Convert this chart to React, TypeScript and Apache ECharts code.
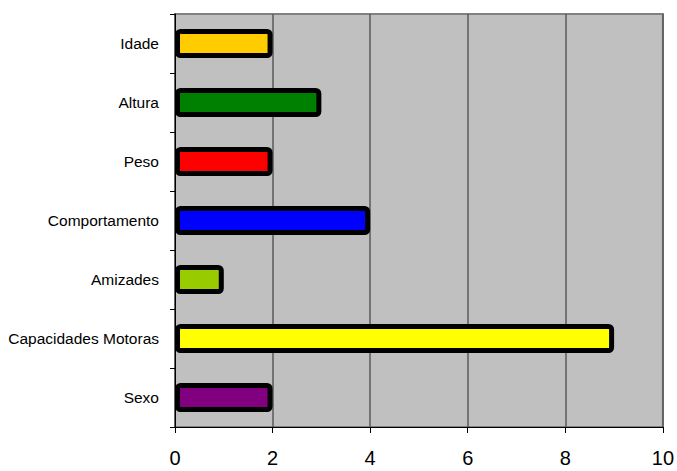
import React, { useEffect, useRef } from "react";
import * as echarts from "echarts";

const categories = ["Idade", "Altura", "Peso", "Comportamento", "Amizades", "Capacidades Motoras", "Sexo"];
const values = [2, 3, 2, 4, 1, 9, 2];
const colors = ["#FFCC00", "#008000", "#FF0000", "#0000FF", "#99CC00", "#FFFF00", "#800080"];
const xTicks = [0, 2, 4, 6, 8, 10];

const FONT = "'Liberation Sans Narrow', 'Arial Narrow', 'Liberation Sans', Arial, sans-serif";

export default function App() {
  const ref = useRef<HTMLDivElement>(null);
  useEffect(() => {
    if (!ref.current) return;
    const chart = echarts.init(ref.current, null, { renderer: "svg" });
    chart.setOption({
      animation: false,
      backgroundColor: "#ffffff",
      grid: {
        left: 175,
        right: 14,
        top: 14,
        bottom: 44,
        show: true,
        backgroundColor: "#C0C0C0",
        borderColor: "#808080",
        borderWidth: 2,
      },
      xAxis: {
        type: "value",
        min: xTicks[0],
        max: xTicks[xTicks.length - 1],
        interval: 2,
        axisLine: { show: true, lineStyle: { color: "#000", width: 1 } },
        axisTick: { show: true, length: 6, lineStyle: { color: "#000" } },
        axisLabel: { color: "#000", fontSize: 20, fontFamily: FONT, margin: 21 },
        splitLine: { show: true, lineStyle: { color: "#5a5a5a", width: 1.5 } },
      },
      yAxis: {
        type: "category",
        data: categories,
        inverse: true,
        axisLine: { show: true, lineStyle: { color: "#000", width: 1 } },
        axisTick: { show: true, length: 5, lineStyle: { color: "#000" } },
        axisLabel: { color: "#000", fontSize: 15.5, fontFamily: FONT, margin: 16 },
        splitLine: { show: false },
      },
      series: [
        {
          type: "bar",
          data: values.map((v, i) => ({ value: v, itemStyle: { color: colors[i] } })),
          barWidth: 29,
          itemStyle: { borderColor: "#000", borderWidth: 5, borderRadius: 3 },
        },
      ],
    });
    return () => chart.dispose();
  }, []);
  return <div ref={ref} style={{ position: "fixed", left: 0, top: 0, width: 677, height: 471 }} />;
}
